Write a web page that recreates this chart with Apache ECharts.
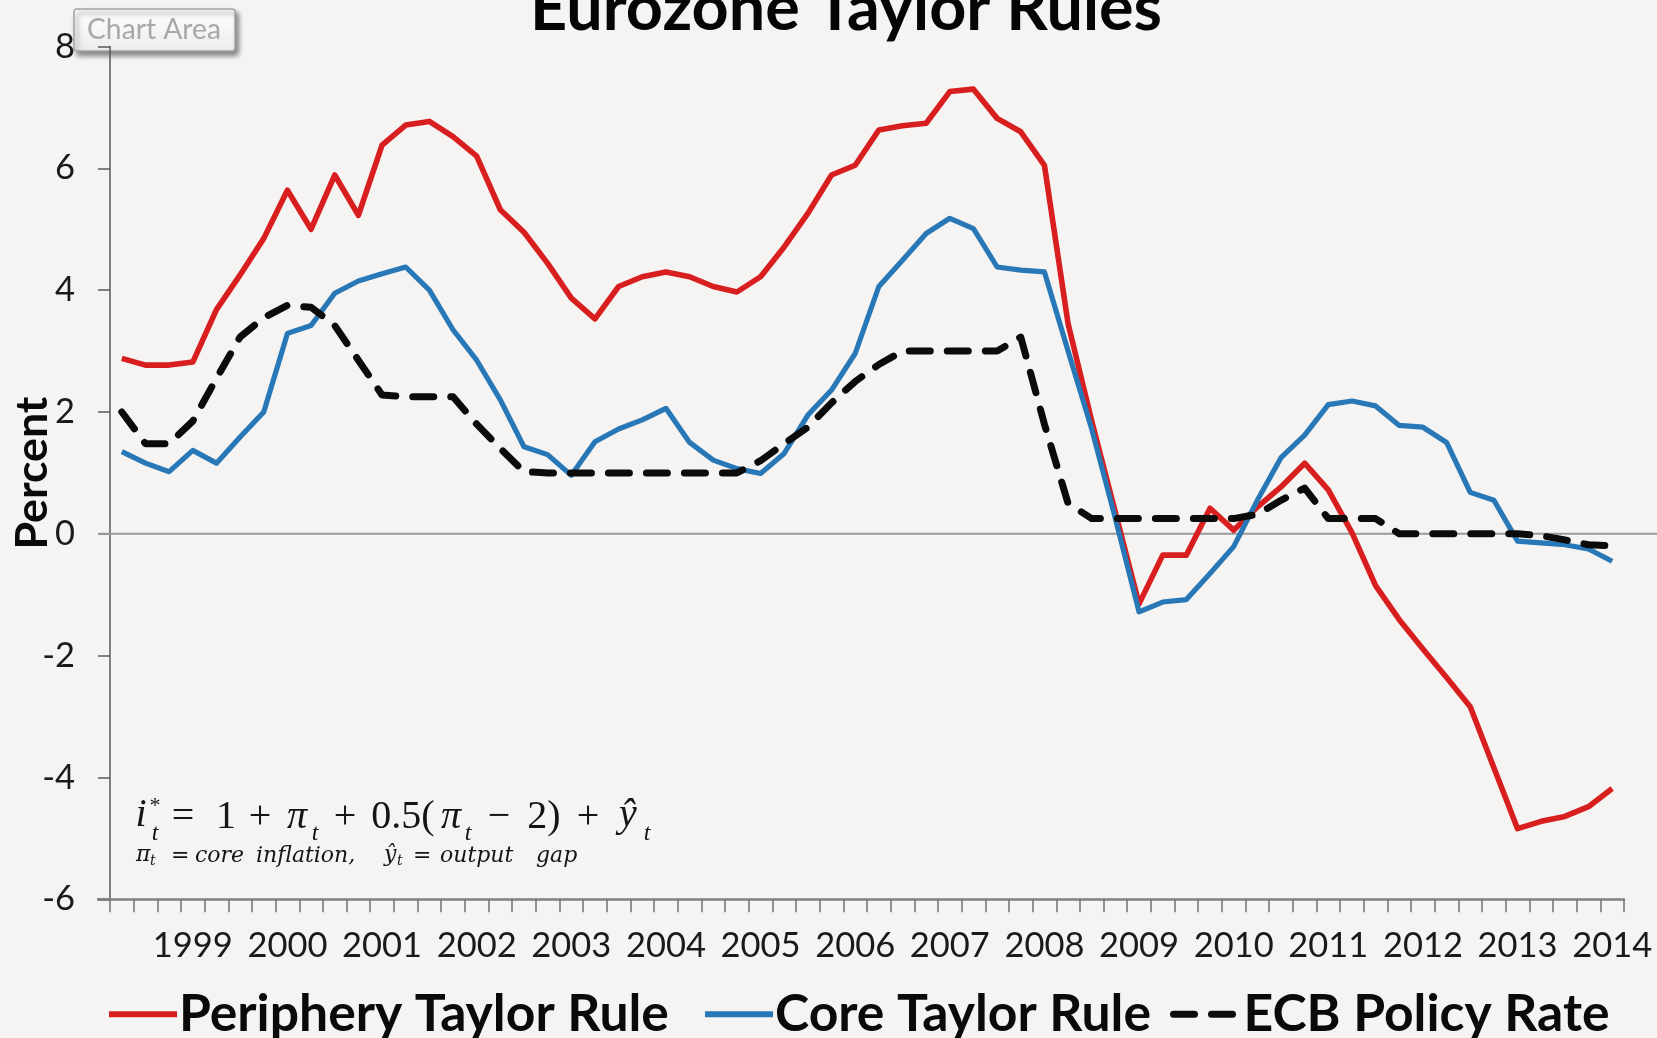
<!DOCTYPE html>
<html>
<head>
<meta charset="utf-8">
<title>Eurozone Taylor Rules</title>
<script src="https://cdn.jsdelivr.net/npm/echarts@6/dist/echarts.min.js"></script>
<style>
  html, body { margin: 0; padding: 0; background: #f5f4f2; }
  #chart { width: 1657px; height: 1038px; }
</style>
</head>
<body>
<div id="chart"></div>
<script>
// Quarterly observations, 1999Q1 - 2014Q4
const years = [1999, 2000, 2001, 2002, 2003, 2004, 2005, 2006, 2007, 2008, 2009, 2010, 2011, 2012, 2013, 2014];
const quarterTags = ['Q1', 'Q2', 'Q3', 'Q4'];
const quarters = [];
years.forEach(y => quarterTags.forEach(q => quarters.push(y + q)));

// Percent
const periphery = [
  2.88, 2.77, 2.77, 2.82, 3.68, 4.25, 4.85, 5.64,
  5.00, 5.89, 5.23, 6.38, 6.71, 6.77, 6.52, 6.20,
  5.32, 4.95, 4.44, 3.87, 3.53, 4.06, 4.22, 4.30,
  4.22, 4.06, 3.97, 4.22, 4.71, 5.26, 5.89, 6.05,
  6.63, 6.70, 6.74, 7.26, 7.30, 6.82, 6.60, 6.05,
  3.45, 1.85, 0.35, -1.15, -0.35, -0.35, 0.42, 0.06,
  0.44, 0.77, 1.16, 0.72, 0.02, -0.85, -1.41, -1.89,
  -2.36, -2.84, -3.84, -4.84, -4.72, -4.64, -4.48, -4.18
];
const core = [
  1.35, 1.16, 1.02, 1.37, 1.16, 1.59, 2.00, 3.29,
  3.42, 3.95, 4.15, 4.27, 4.38, 4.00, 3.35, 2.85,
  2.20, 1.43, 1.30, 0.96, 1.51, 1.72, 1.87, 2.06,
  1.50, 1.21, 1.07, 0.99, 1.32, 1.95, 2.36, 2.96,
  4.06, 4.49, 4.93, 5.18, 5.01, 4.38, 4.33, 4.30,
  3.00, 1.72, 0.25, -1.28, -1.12, -1.08, -0.65, -0.21,
  0.55, 1.25, 1.62, 2.12, 2.18, 2.10, 1.78, 1.75,
  1.50, 0.68, 0.55, -0.12, -0.15, -0.18, -0.25, -0.45
];
const ecbRate = [
  2.00, 1.48, 1.48, 1.85, 2.55, 3.23, 3.55, 3.75,
  3.72, 3.42, 2.85, 2.28, 2.25, 2.25, 2.25, 1.80,
  1.40, 1.02, 1.00, 1.00, 1.00, 1.00, 1.00, 1.00,
  1.00, 1.00, 1.00, 1.20, 1.48, 1.75, 2.15, 2.50,
  2.78, 3.00, 3.00, 3.00, 3.00, 3.00, 3.23, 1.80,
  0.50, 0.25, 0.25, 0.25, 0.25, 0.25, 0.25, 0.25,
  0.32, 0.55, 0.75, 0.25, 0.25, 0.25, 0.00, 0.00,
  0.00, 0.00, 0.00, 0.00, -0.03, -0.10, -0.18, -0.20
];

const yMin = -6, yMax = 8, yStep = 2;
const seriesNames = ['Periphery Taylor Rule', 'Core Taylor Rule', 'ECB Policy Rate'];

const SANS = 'Lato, "Liberation Sans", "DejaVu Sans", sans-serif';
const SERIF = '"Liberation Serif", "DejaVu Serif", serif';
const MATHIT = '"DejaVu Serif", "Liberation Serif", serif';

const RED = '#d81e1e';
const BLUE = '#2878b8';
const BLACK = '#0b0b0b';

// Font size that makes a string span a given width
const measureCtx = document.createElement('canvas').getContext('2d');
function fitSize(text, weight, family, width) {
  measureCtx.font = weight + ' 100px ' + family;
  return 100 * width / measureCtx.measureText(text).width;
}
const titleSize = fitSize('Eurozone Taylor Rules', 'bold', SANS, 632);
const legendSize = fitSize(seriesNames[0], 'bold', SANS, 490);
const percentSize = fitSize('Percent', 'bold', SANS, 153);
const tickSize = fitSize('1999', 'normal', SANS, 80);
const tipSize = fitSize('Chart Area', 'normal', SANS, 134);

const chart = echarts.init(document.getElementById('chart'), null, { renderer: 'canvas' });

// Small helper for the formula annotation
function txt(x, y, s, size, opts) {
  opts = opts || {};
  return {
    type: 'text', x: x, y: y, silent: true, z: 20,
    style: {
      text: s,
      fontFamily: opts.family || SERIF,
      fontStyle: opts.italic ? 'italic' : 'normal',
      fontSize: size,
      fill: opts.color || '#141414',
      align: opts.align || 'center',
      verticalAlign: 'middle'
    }
  };
}

const formula = [
  txt(141, 815, 'i', 40, { italic: true }),
  txt(155, 806, '*', 22),
  txt(155, 834, 't', 24, { italic: true }),
  txt(183, 817, '=', 40),
  txt(226, 817, '1', 40),
  txt(260, 817, '+', 40),
  txt(297, 817, 'π', 40, { italic: true }),
  txt(315, 834, 't', 24, { italic: true }),
  txt(345, 817, '+', 40),
  txt(403, 817, '0.5(', 40),
  txt(451, 817, 'π', 40, { italic: true }),
  txt(468, 834, 't', 24, { italic: true }),
  txt(499, 817, '−', 40),
  txt(544, 817, '2)', 40),
  txt(588, 817, '+', 40),
  txt(628, 815, 'ŷ', 40, { italic: true }),
  txt(647, 834, 't', 24, { italic: true }),
  // meaning of the symbols
  txt(136, 855, 'π', 22, { italic: true, family: MATHIT, align: 'left' }),
  txt(150, 861, 't', 14, { italic: true, family: MATHIT, align: 'left' }),
  txt(171, 856, '=', 22, { family: MATHIT, align: 'left' }),
  txt(195, 856, 'core', 22, { italic: true, family: MATHIT, align: 'left' }),
  txt(256, 856, 'inflation,', 22, { italic: true, family: MATHIT, align: 'left' }),
  txt(384, 855, 'ŷ', 22, { italic: true, family: MATHIT, align: 'left' }),
  txt(397, 861, 't', 14, { italic: true, family: MATHIT, align: 'left' }),
  txt(413, 856, '=', 22, { family: MATHIT, align: 'left' }),
  txt(440, 856, 'output', 22, { italic: true, family: MATHIT, align: 'left' }),
  txt(536, 856, 'gap', 22, { italic: true, family: MATHIT, align: 'left' })
];

function legendAt(idx, left, width) {
  return {
    data: [{ name: seriesNames[idx], itemStyle: { opacity: 0 }, lineStyle: { width: width } }],
    left: left, top: 1014 - legendSize / 2, padding: 0,
    itemWidth: 68, itemHeight: 20,
    selectedMode: false,
    textStyle: { fontFamily: SANS, fontWeight: 'bold', fontSize: legendSize, color: '#0a0a0a', padding: [0, 0, 0, -3] }
  };
}

const option = {
  backgroundColor: '#f5f4f2',
  animation: false,
  grid: { left: 110, right: 33, top: 46.5, bottom: 138.7, containLabel: false },
  legend: [legendAt(0, 106, 6), legendAt(1, 702, 6), legendAt(2, 1170, 7)],
  xAxis: {
    type: 'category',
    data: quarters,
    boundaryGap: true,
    axisLine: { show: true, onZero: false, lineStyle: { color: '#808080', width: 2.5 } },
    axisTick: { show: true, interval: 0, length: 13, lineStyle: { color: '#707070', width: 1.5 } },
    axisLabel: {
      interval: (i, v) => v.endsWith('Q4'),
      formatter: v => v.slice(0, 4),
      showMinLabel: true, showMaxLabel: true,
      fontFamily: SANS, fontSize: tickSize, color: '#1a1a1a', margin: 30
    },
    splitLine: { show: false }
  },
  yAxis: {
    type: 'value',
    min: yMin, max: yMax, interval: yStep,
    axisLine: { show: true, lineStyle: { color: '#5a5a5a', width: 1.5 } },
    axisTick: { show: true, length: 12, lineStyle: { color: '#5a5a5a', width: 1.5 } },
    axisLabel: { fontFamily: SANS, fontSize: tickSize, color: '#1a1a1a', margin: 35 },
    splitLine: { show: false }
  },
  series: [
    {
      name: seriesNames[0], type: 'line', data: periphery,
      symbol: 'none', smooth: false, z: 3,
      lineStyle: { color: RED, width: 5.6, join: 'round' }, itemStyle: { color: RED }
    },
    {
      name: seriesNames[1], type: 'line', data: core,
      symbol: 'none', smooth: false, z: 4,
      lineStyle: { color: BLUE, width: 5.2, join: 'round' }, itemStyle: { color: BLUE }
    },
    {
      name: seriesNames[2], type: 'line', data: ecbRate,
      symbol: 'none', smooth: false, z: 5,
      lineStyle: { color: BLACK, width: 7, type: [21, 17], cap: 'round', join: 'round' },
      itemStyle: { color: BLACK }
    }
  ],
  graphic: [
    {
      type: 'text', x: 846, y: 28 + 0.21 * titleSize, silent: true, z: 20,
      style: { text: 'Eurozone Taylor Rules', fontFamily: SANS, fontWeight: 'bold', fontSize: titleSize,
               fill: '#050505', align: 'center', verticalAlign: 'bottom' }
    },
    {
      type: 'text', x: 33, y: 473, rotation: Math.PI / 2, silent: true, z: 20,
      style: { text: 'Percent', fontFamily: SANS, fontWeight: 'bold', fontSize: percentSize,
               fill: '#0a0a0a', align: 'center', verticalAlign: 'middle' }
    },
    {
      type: 'group', z: 30, children: [
        {
          type: 'rect', shape: { x: 74, y: 9, width: 161, height: 42, r: 3 }, silent: true,
          style: {
            fill: { type: 'linear', x: 0, y: 0, x2: 0, y2: 1,
                    colorStops: [{ offset: 0, color: '#ffffff' }, { offset: 1, color: '#ececec' }] },
            stroke: '#a3a3a3', lineWidth: 1.5,
            shadowBlur: 5, shadowOffsetX: 3, shadowOffsetY: 4, shadowColor: 'rgba(0,0,0,0.45)'
          }
        },
        {
          type: 'text', x: 154, y: 30, silent: true,
          style: { text: 'Chart Area', fontFamily: SANS, fontSize: tipSize, fill: '#a8a8a8',
                   align: 'center', verticalAlign: 'middle' }
        }
      ]
    }
  ].concat(formula)
};

chart.setOption(option);

// Horizontal reference line at zero, running from the y-axis tick to the right edge
const zeroY = chart.convertToPixel({ yAxisIndex: 0 }, 0);
const bottomY = chart.convertToPixel({ yAxisIndex: 0 }, yMin);
option.graphic.push(
  {
    type: 'line', silent: true, z: 1,
    shape: { x1: 98, y1: zeroY, x2: 1657, y2: zeroY },
    style: { stroke: '#9a9a9a', lineWidth: 2 }
  },
  {
    // short stub of the category axis to the left of the value axis
    type: 'line', silent: true, z: 1,
    shape: { x1: 97, y1: bottomY, x2: 110, y2: bottomY },
    style: { stroke: '#808080', lineWidth: 2.5 }
  }
);
chart.setOption({ graphic: option.graphic });
</script>
</body>
</html>
